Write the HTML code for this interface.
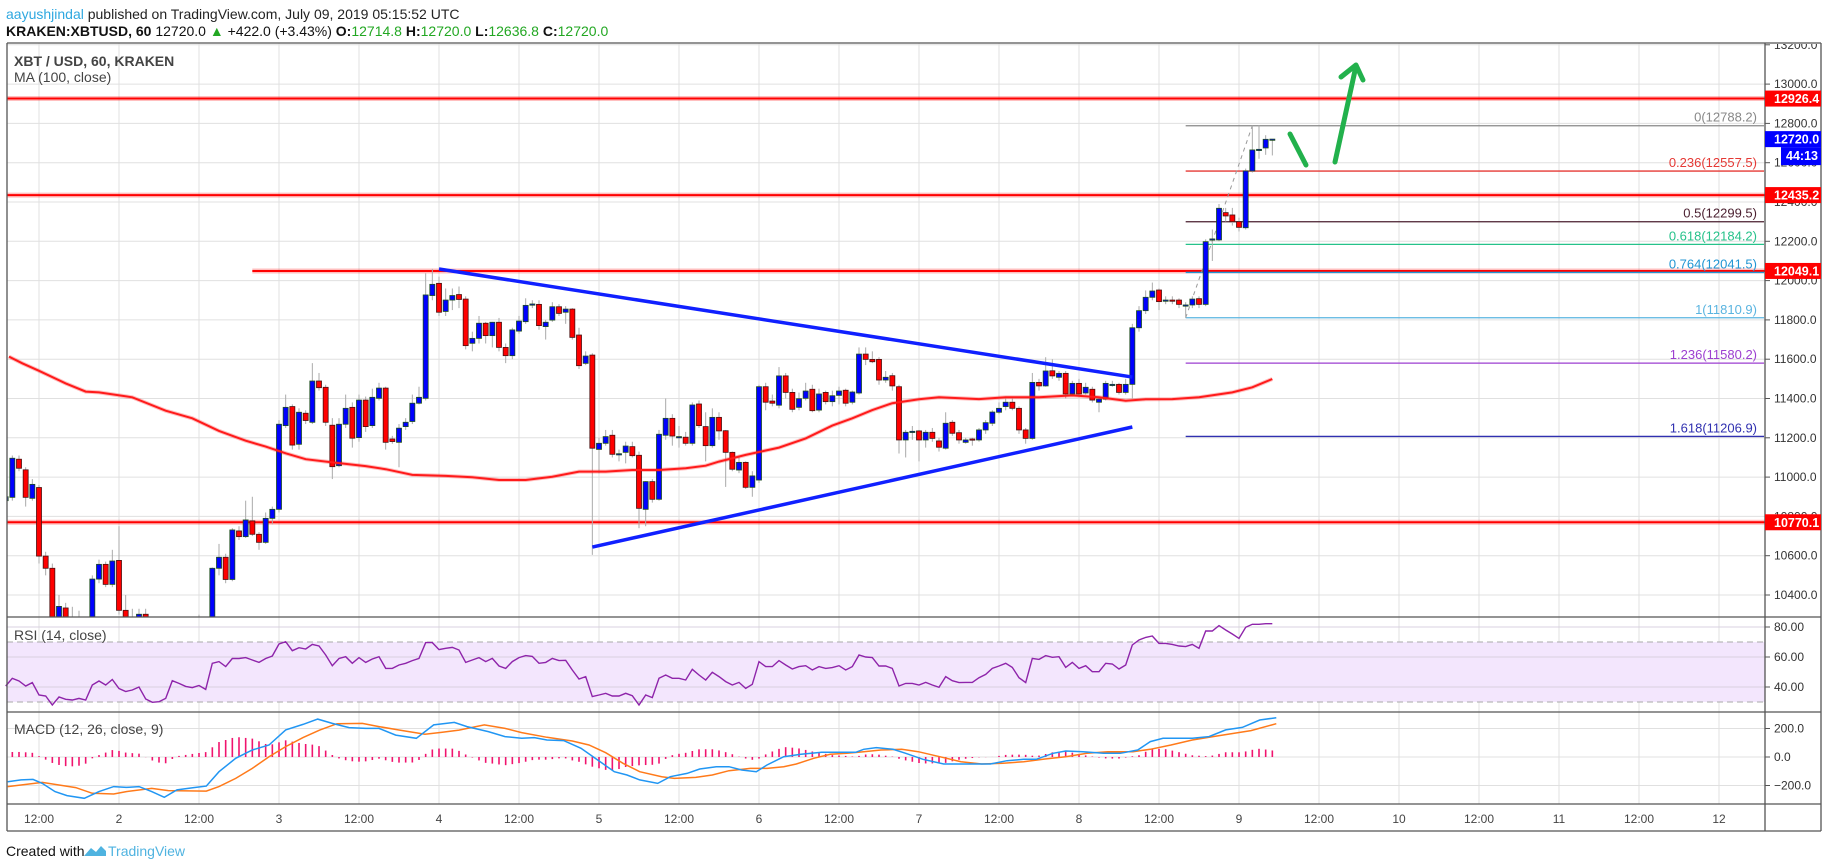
<!DOCTYPE html>
<html><head><meta charset="utf-8">
<style>
html,body{margin:0;padding:0;background:#fff;}
svg{display:block;font-family:"Liberation Sans",sans-serif;}
</style></head>
<body>
<svg id="chart" width="1828" height="868" viewBox="0 0 1828 868" xmlns="http://www.w3.org/2000/svg">
<rect x="0" y="0" width="1828" height="868" fill="#fff"/>
<text x="6" y="19" font-size="14" fill="#222"><tspan fill="#2fa8e0">aayushjindal</tspan> published on TradingView.com, July 09, 2019 05:15:52 UTC</text>
<text x="6" y="36" font-size="14" fill="#111"><tspan font-weight="bold">KRAKEN:XBTUSD, 60</tspan>  12720.0 <tspan fill="#22a722">▲</tspan> +422.0 (+3.43%) <tspan font-weight="bold">O:</tspan><tspan fill="#22a722">12714.8</tspan> <tspan font-weight="bold">H:</tspan><tspan fill="#22a722">12720.0</tspan> <tspan font-weight="bold">L:</tspan><tspan fill="#22a722">12636.8</tspan> <tspan font-weight="bold">C:</tspan><tspan fill="#22a722">12720.0</tspan></text>
<g id="grid"></g>
<g id="main"></g>
<g id="rsi"></g>
<g id="macd"></g>
<g id="axes"></g>
<text x="14" y="66" font-size="14" font-weight="bold" fill="#444">XBT / USD, 60, KRAKEN</text>
<text x="14" y="82" font-size="14" fill="#444">MA (100, close)</text>
<text x="14" y="640" font-size="14" fill="#444">RSI (14, close)</text>
<text x="14" y="734" font-size="14" fill="#444">MACD (12, 26, close, 9)</text>
<text x="6" y="856" font-size="14" fill="#111">Created with</text>
<path d="M84 856 L91 848 L96 852 L101 846 L106 851 L106 856 Z" fill="#4fb3e0"/>
<text x="108" y="856" font-size="14" fill="#4fb3e0">TradingView</text>
</svg>
<script>
// ---- data ----
const candles = [
[10880,10900,10910,10860],[10897,11096,11110,10880],[11091,11045,11110,11030],[11037,10897,11050,10850],[10892,10963,10990,10880],
[10947,10598,10960,10560],[10598,10536,10620,10500],[10536,10260,10560,10240],[10250,10342,10400,10230],[10334,10260,10360,10240],
[10260,10230,10340,10200],[10230,10250,10320,10210],[10250,10240,10270,10220],[10270,10481,10500,10260],[10481,10556,10580,10460],
[10556,10454,10570,10440],[10454,10573,10630,10440],[10576,10322,10750,10300],[10322,10270,10400,10250],[10270,10260,10330,10240],
[10270,10302,10330,10260],[10302,10270,10330,10250],[10270,10250,10290,10230],[10250,10240,10270,10220],[10240,10230,10260,10210],
[10230,10250,10280,10210],[10250,10240,10270,10220],[10240,10250,10270,10220],[10250,10240,10270,10220],[10240,10250,10300,10220],
[10250,10260,10280,10230],[10260,10536,10540,10240],[10536,10592,10660,10500],[10592,10479,10610,10460],[10479,10731,10740,10470],
[10726,10697,10750,10680],[10697,10782,10880,10690],[10777,10709,10900,10700],[10709,10668,10720,10630],[10668,10790,10820,10660],
[10790,10836,10850,10760],[10836,11269,11290,10820],[11262,11355,11420,11250],[11359,11163,11370,11140],[11167,11330,11350,11140],
[11325,11288,11340,11270],[11279,11489,11580,11270],[11489,11455,11530,11440],[11457,11279,11470,11260],[11264,11053,11300,10990],
[11058,11269,11300,11050],[11269,11350,11420,11250],[11355,11198,11380,11150],[11201,11392,11420,11180],[11392,11257,11410,11230],
[11262,11406,11450,11250],[11401,11453,11480,11390],[11453,11177,11460,11140],[11194,11181,11210,11170],[11177,11249,11270,11050],
[11257,11279,11300,11240],[11283,11376,11420,11270],[11376,11406,11460,11370],[11401,11927,12037,11390],[11924,11981,12060,11900],
[11986,11839,12020,11820],[11843,11901,11960,11820],[11901,11924,11960,11850],[11929,11904,11970,11860],[11906,11669,11920,11650],
[11681,11706,11740,11640],[11706,11783,11820,11680],[11783,11720,11790,11680],[11720,11788,11790,11660],[11788,11660,11810,11640],
[11660,11618,11680,11580],[11618,11749,11760,11600],[11743,11794,11820,11730],[11791,11874,11910,11780],[11877,11881,11900,11860],
[11879,11771,11900,11750],[11766,11788,11800,11700],[11799,11867,11890,11790],[11867,11833,11880,11820],[11839,11855,11870,11780],
[11855,11711,11860,11700],[11723,11567,11760,11550],[11579,11616,11640,11570],[11621,11147,11630,10604],[11141,11172,11200,11020],
[11172,11206,11240,11160],[11213,11116,11240,11100],[11119,11119,11140,11080],[11126,11158,11180,11070],[11155,11109,11180,11100],
[11111,10841,11130,10740],[10836,10977,10980,10750],[10977,10887,10990,10870],[10887,11218,11240,10880],[11213,11299,11400,11190],
[11299,11209,11320,11160],[11206,11206,11260,11150],[11203,11172,11230,11160],[11172,11367,11380,11160],[11372,11262,11390,11250],
[11257,11160,11330,11080],[11160,11304,11350,11150],[11304,11235,11330,11190],[11236,11126,11240,10950],[11126,11040,11130,11030],
[11036,11075,11110,11020],[11075,10948,11080,10940],[10948,11006,11030,10900],[10985,11460,11470,10970],[11460,11381,11480,11340],
[11387,11376,11420,11360],[11366,11515,11560,11350],[11515,11431,11530,11400],[11431,11345,11450,11330],[11355,11399,11430,11340],
[11401,11438,11480,11390],[11447,11338,11470,11330],[11341,11423,11450,11330],[11431,11384,11440,11370],[11384,11414,11440,11360],
[11416,11438,11460,11370],[11442,11376,11450,11360],[11381,11433,11440,11370],[11428,11626,11660,11420],[11626,11599,11660,11570],
[11599,11587,11640,11580],[11599,11494,11610,11470],[11494,11508,11540,11480],[11516,11464,11530,11440],[11460,11189,11470,11120],
[11189,11228,11240,11100],[11233,11233,11260,11190],[11235,11189,11240,11080],[11189,11228,11240,11150],[11228,11197,11250,11180],
[11184,11152,11200,11130],[11147,11274,11330,11140],[11279,11223,11290,11210],[11226,11189,11240,11170],[11177,11189,11200,11170],
[11194,11189,11200,11160],[11189,11240,11250,11180],[11240,11277,11290,11220],[11274,11331,11340,11260],[11330,11350,11380,11320],
[11359,11381,11400,11340],[11381,11350,11400,11340],[11350,11240,11360,11220],[11240,11197,11250,11170],[11197,11482,11530,11190],
[11482,11464,11500,11440],[11464,11540,11610,11460],[11541,11515,11600,11500],[11508,11528,11540,11490],[11528,11423,11540,11400],
[11423,11477,11490,11410],[11477,11423,11500,11410],[11428,11457,11480,11420],[11447,11392,11460,11380],[11381,11397,11410,11330],
[11397,11477,11490,11390],[11472,11472,11490,11460],[11472,11431,11480,11420],[11431,11472,11500,11420],[11472,11760,11780,11400],
[11760,11847,11870,11740],[11847,11915,11950,11830],[11915,11947,11990,11900],[11952,11893,11960,11850],[11901,11901,11920,11880],
[11901,11899,11920,11880],[11901,11879,11910,11860],[11876,11876,11890,11811],[11876,11906,11920,11860],[11908,11879,11920,11860],
[11879,12198,12210,11870],[12207,12212,12260,12100],[12207,12368,12390,12200],[12346,12329,12370,12300],[12334,12300,12370,12280],
[12300,12271,12320,12250],[12269,12558,12570,12260],[12558,12665,12788,12550],[12668,12668,12790,12620],[12675,12719,12740,12640],
[12719,12720,12720,12637]];
const firstHour = 7;
const maHours = [7.5,9.5,12,16,19,21,26,31,35,39,43,46,49,52,56,61,64,68,73,77,81,85,89,93,97,101,105,109,112,114,118,123,127,131,134,137,140,144,147,153,157,162,167,171,175,178,182,186,191,194,197];
const maValues = [11613,11579,11541,11477,11435,11431,11406,11338,11299,11235,11185,11155,11121,11091,11075,11056,11040,11011,11006,10999,10985,10985,11002,11028,11028,11036,11036,11045,11058,11079,11113,11150,11197,11262,11299,11341,11376,11396,11406,11397,11406,11406,11416,11406,11389,11396,11397,11406,11431,11457,11499];
const rsiValues = [40.7,45.8,44,40.7,42.9,34.7,34,28,33.3,31.8,31.3,32.4,31.3,41.3,44,41.3,45,39,37,38,40,32,29.8,30.2,32.4,44.2,42.4,40.4,39.6,41,38.4,55.8,56.9,53.6,59,59,59.6,58,56.4,59,60.7,68.7,70.2,64.2,66.2,65.3,68.4,67.3,61.3,54.2,59,60.2,55.8,59.6,56.4,58.7,60.2,52.4,52.4,54.7,55.8,57.6,59.1,69.6,69.6,64.9,65.8,66.4,64.7,56.4,58,59.6,56.9,59.1,54,52.4,56.9,59.6,60.9,60.4,55.8,56.4,59.1,57.6,57.8,51.3,45.3,46.9,33.6,34.7,35.8,34,34,35.8,34.2,28,34.7,32.9,45.8,48,45.8,45.8,44.7,51.8,48,44.7,49.8,46.9,43.6,41.3,43.1,39.1,41.8,56.9,53.6,53.6,57.6,54.7,52,53.6,54.2,51.3,53.6,52.4,52.9,54.2,51.3,53.6,61.3,60,59.6,54,54,52.4,40.7,42.4,42.4,41.3,43.1,41.3,39.8,46.9,44.2,42.9,43.1,43.1,46.2,48.4,52.4,54,55.8,53.1,46.2,42.9,59.1,58.4,60.9,59.8,60.2,53.1,56.4,52.4,54.2,50.2,50.2,55.8,55.3,52,54.7,68,71.3,73.1,74,69.1,69.1,68.4,67.3,66.9,68.4,65.8,77.3,77.3,80.9,78,75.3,72.4,79.8,81.8,81.8,82.2,82.2];
const macdHours = [7.3,9.3,11.1,12.5,14.4,16.2,18.8,21,23.2,25.1,27,28.9,30.8,32.7,35.2,37.1,39,41.5,44,46.5,49,51.6,53.8,56,58.5,61,63,65.5,68.6,71.2,74.3,76.2,79.4,81.9,84.4,86.3,88.2,90.7,93.3,95.8,98.3,100.2,102.1,104.8,106.7,109.2,111.1,113.6,115.5,117.4,119.6,121.2,123.7,126.3,129.4,134.5,135.7,137.6,140.1,142,144.6,147.7,150.9,154.7,157.2,159.7,161.6,164.1,166,168.6,171.7,174.2,176.8,178.7,180.6,185,187.5,190,192.5,195.1,197.6];
const macdValues = [-173,-161,-157,-185,-243,-271,-290,-243,-208,-213,-208,-243,-283,-231,-215,-204,-103,-9,49,84,190,229,266,236,206,201,201,154,131,225,243,213,178,143,131,136,119,115,61,-21,-103,-126,-161,-185,-138,-115,-84,-68,-68,-91,-103,-56,2,19,33,33,54,66,54,26,-16,-49,-49,-49,-26,-16,-16,26,42,37,26,26,49,108,131,131,143,190,208,260,276];
const signalHours = [7.3,12.5,17.5,20,23.2,25.1,28.9,31.4,37.1,39,41.5,44,46.5,49,51.6,54.1,56.7,60.5,63,66.1,69.9,72.5,75,78.8,81.9,84.4,88.2,92,94.5,97,99.6,102.1,105.4,107.3,110.5,113,115.5,118.7,121.2,123.7,125.6,128.2,130.7,133.2,135.7,138.3,141.4,143.9,147.1,150.3,153.4,156.6,159.7,162.9,166,169.2,172.3,176.1,178.7,181.8,185,188.1,191.3,193.8,197.6];
const signalValues = [-208,-178,-215,-255,-260,-243,-220,-236,-239,-208,-150,-80,2,73,136,189,234,236,213,189,159,173,189,225,201,171,138,112,84,30,-44,-103,-138,-150,-143,-126,-96,-80,-80,-68,-49,-9,19,26,37,49,54,37,2,-33,-49,-44,-33,-14,2,26,37,37,54,84,119,143,166,185,234];
const priceTicks = [10400,10600,10800,11000,11200,11400,11600,11800,12000,12200,12400,12600,12800,13000,13200];
const rsiTicks = [80,60,40];
const macdTicks = [200,0,-200];
const timeLabels = ["12:00","2","12:00","3","12:00","4","12:00","5","12:00","6","12:00","7","12:00","8","12:00","9","12:00","10","12:00","11","12:00","12"];
const hLevels = [12926.4,12435.2,10770.1];
const resistStartHour = 44;
const fibRatios = ["0","0.236","0.5","0.618","0.764","1","1.236","1.618"];
const fibPrices = [12788.2,12557.5,12299.5,12184.2,12041.5,11810.9,11580.2,11206.9];
const fibColors = ["#888","#e53935","#4a1f2f","#26c28a","#2196d3","#5ab4e0","#9c3fd0","#3030b0"];
const fibStartHour = 184;
const upperTrend = [[72,12059],[176,11509]];
const lowerTrend = [[95,10644],[176,11255]];
const lastPrice = 12720.0;

// ---- scales ----
const PL=7, PR=1765, MT=43, MB=617, RB=712, MDB=804, TB=831, OR=1821;
const X = t => 39 + (t-12)*6.6667;
const Y = p => 595 - (p-10400)*0.1965;
const RY = v => 642 + (70-v)*1.5;
const MY = v => 757 - v*0.1425;
const NS='http://www.w3.org/2000/svg';
function mk(tag, attrs, parent){const e=document.createElementNS(NS,tag);for(const k in attrs)e.setAttribute(k,attrs[k]);parent.appendChild(e);return e;}
const grid=document.getElementById('grid'), main=document.getElementById('main'), rsiG=document.getElementById('rsi'), macdG=document.getElementById('macd'), axes=document.getElementById('axes');
const defs=mk('defs',{},document.getElementById('chart'));
const cp=mk('clipPath',{id:'cm'},defs); mk('rect',{x:PL,y:MT,width:PR-PL,height:MB-MT},cp);
main.setAttribute('clip-path','url(#cm)');

timeLabels.forEach((lb,i)=>{
  const x=X(12+12*i);
  const l=mk('line',{x1:x,x2:x,y1:MT,y2:MDB,stroke:'#e0e0e0','stroke-width':1},grid);
  
  
  const t=mk('text',{x:x,y:823,'font-size':12,fill:'#444','text-anchor':'middle'},axes);
  t.textContent=lb;
  
  
});
priceTicks.forEach(p=>{
  const y=Y(p); if(y<MT) return;
  const l=mk('line',{x1:PL,x2:PR,y1:y,y2:y,stroke:'#e0e0e0','stroke-width':1},grid);
  
  
});
const band=mk('rect',{x:PL,y:RY(70),width:PR-PL,height:RY(30)-RY(70),fill:'#f3e6fd'},rsiG);


rsiTicks.forEach(v=>{const l=mk('line',{x1:PL,x2:PR,y1:RY(v),y2:RY(v),stroke:'#d8d0e0'},rsiG);
  
  });
[70,30].forEach(v=>{const l=mk('line',{x1:PL,x2:PR,y1:RY(v),y2:RY(v),stroke:'#aaa','stroke-dasharray':'6,4'},rsiG);
  
  });
macdTicks.forEach(v=>{const l=mk('line',{x1:PL,x2:PR,y1:MY(v),y2:MY(v),stroke:'#e0e0e0'},macdG);
  
  });

hLevels.forEach(p=>{
  const y=Y(p);
  mk('line',{x1:PL,x2:PR,y1:y,y2:y,stroke:'rgba(255,0,0,0.25)','stroke-width':5},main);
  const l=mk('line',{x1:PL,x2:PR,y1:y,y2:y,stroke:'#ff0000','stroke-width':2},main);
  
  
});
{ const y=Y(12049.1);
  mk('line',{x1:X(resistStartHour),x2:PR,y1:y,y2:y,stroke:'rgba(255,0,0,0.25)','stroke-width':5},main);
  const l=mk('line',{x1:X(resistStartHour),x2:PR,y1:y,y2:y,stroke:'#ff0000','stroke-width':2},main);
  
  
}
fibPrices.forEach((p,i)=>{
  const y=Y(p);
  const l=mk('line',{x1:X(fibStartHour),x2:PR-1,y1:y,y2:y,stroke:fibColors[i],'stroke-width':1.3},main);
  
  
  const t=mk('text',{x:1757,y:y-4,'font-size':13,fill:fibColors[i],'text-anchor':'end'},main);
  t.textContent=fibRatios[i]+'('+p.toFixed(1)+')';
  
  
});
{ const d=mk('line',{x1:X(fibStartHour),y1:Y(fibPrices[5]),x2:X(194),y2:Y(fibPrices[0]),stroke:'#999','stroke-width':1,'stroke-dasharray':'4,4'},main);
  
   }

candles.forEach((c,i)=>{
  const t=firstHour+i, x=X(t);
  const [o,cl,h,l]=c;
  const up=cl>=o;
  const w=mk('line',{x1:x,x2:x,y1:Y(h),y2:Y(l),stroke:'#aaa','stroke-width':1},main);
  
  
  const top=Y(Math.max(o,cl)), bot=Y(Math.min(o,cl));
  const b=mk('rect',{x:x-2.5,y:top,width:5,height:Math.max(1.2,bot-top),fill:up?'#0000ff':'#ff0000',stroke:up?'#1d4d1d':'#4a1010','stroke-width':0.8},main);
  
  
});
{ const d=maHours.map((t,i)=>(i?'L':'M')+X(t).toFixed(1)+' '+Y(maValues[i]).toFixed(1)).join(' ');
  mk('path',{d:d,fill:'none',stroke:'rgba(255,0,0,0.25)','stroke-width':4},main);
  const p=mk('path',{d:d,fill:'none',stroke:'#ff1a1a','stroke-width':2},main);
  
   }
[upperTrend,lowerTrend].forEach(tl=>{
  const l=mk('line',{x1:X(tl[0][0]),y1:Y(tl[0][1]),x2:X(tl[1][0]),y2:Y(tl[1][1]),stroke:'#1020ff','stroke-width':3.5},main);
  
  
});
{ const g=mk('g',{stroke:'#22b14c','stroke-width':5,'stroke-linecap':'round','stroke-linejoin':'round',fill:'none'},main);
  
  
  mk('line',{x1:1290,y1:134,x2:1306,y2:165},g);
  mk('line',{x1:1335,y1:162,x2:1356,y2:66},g);
  mk('polyline',{points:'1341,77 1356,65 1363,80'},g); }

{ const d=rsiValues.map((v,i)=>(i?'L':'M')+X(firstHour+i).toFixed(1)+' '+RY(v).toFixed(1)).join(' ');
  const p=mk('path',{d:d,fill:'none',stroke:'#8e24aa','stroke-width':1.4},rsiG);
  
   }
function interp(hs,vs,t){ if(t<=hs[0])return vs[0]; for(let i=1;i<hs.length;i++){ if(t<=hs[i]){const f=(t-hs[i-1])/(hs[i]-hs[i-1]);return vs[i-1]+f*(vs[i]-vs[i-1]);} } return vs[vs.length-1]; }
for(let t=firstHour+1;t<firstHour+candles.length;t++){
  const h=interp(macdHours,macdValues,t)-interp(signalHours,signalValues,t);
  const b=mk('line',{x1:X(t),x2:X(t),y1:MY(0),y2:MY(h),stroke:'#f0146e','stroke-width':1.6},macdG);
  
  
}
{ const d=signalHours.map((t,i)=>(i?'L':'M')+X(t).toFixed(1)+' '+MY(signalValues[i]).toFixed(1)).join(' ');
  const p=mk('path',{d:d,fill:'none',stroke:'#ff7a1a','stroke-width':1.5},macdG);
  
   }
{ const d=macdHours.map((t,i)=>(i?'L':'M')+X(t).toFixed(1)+' '+MY(macdValues[i]).toFixed(1)).join(' ');
  const p=mk('path',{d:d,fill:'none',stroke:'#2196f3','stroke-width':1.5},macdG);
  
   }

[[PL,MT,OR,MT],[PL,MB,OR,MB],[PL,RB,OR,RB],[PL,MDB,OR,MDB],[PL,TB,OR,TB],[PL,MT,PL,TB],[PR,MT,PR,TB],[OR,MT,OR,TB]].forEach(a=>{
  const l=mk('line',{x1:a[0],y1:a[1],x2:a[2],y2:a[3],stroke:'#555','stroke-width':1.3},axes);
  
  
});
const axClip=mk('clipPath',{id:'ca'},defs); mk('rect',{x:PR,y:MT+1,width:OR-PR,height:MB-MT-1},axClip);
const pax=mk('g',{'clip-path':'url(#ca)'},axes);


priceTicks.forEach(p=>{
  const y=Y(p);
  mk('line',{x1:PR,x2:PR+5,y1:y,y2:y,stroke:'#555'},pax);
  const t=mk('text',{x:1774,y:y+4,'font-size':12,fill:'#333'},pax);
  t.textContent=p.toFixed(1);
  
  
});
rsiTicks.forEach(v=>{
  mk('line',{x1:PR,x2:PR+5,y1:RY(v),y2:RY(v),stroke:'#555'},axes);
  const t=mk('text',{x:1774,y:RY(v)+4,'font-size':12,fill:'#333'},axes);
  t.textContent=v.toFixed(2);
  
  
});
macdTicks.forEach(v=>{
  mk('line',{x1:PR,x2:PR+5,y1:MY(v),y2:MY(v),stroke:'#555'},axes);
  const t=mk('text',{x:1774,y:MY(v)+4,'font-size':12,fill:'#333'},axes);
  t.textContent=(v<0?'\u2212'+(-v).toFixed(1):v.toFixed(1));
  
  
});
function tag(p,bg,txt,x0){
  const y=Y(p);
  const r=mk('rect',{x:x0,y:y-8,width:OR-x0,height:16,fill:bg},axes);
  
  
  const t=mk('text',{x:1774,y:y+4.5,'font-size':12.5,'font-weight':'bold',fill:'#fff'},axes);
  t.textContent=txt;
  
  
}
hLevels.forEach(p=>tag(p,'#ff0000',p.toFixed(1),PR));
tag(12049.1,'#ff0000','12049.1',PR);
tag(lastPrice,'#0000ff',lastPrice.toFixed(1),PR);
{ const y=Y(lastPrice)+16;
  const r=mk('rect',{x:1781,y:y-8,width:OR-1781,height:18,fill:'#0000ff'},axes);
  
  
  const t=mk('text',{x:1786,y:y+5,'font-size':12.5,'font-weight':'bold',fill:'#fff'},axes);
  t.textContent='44:13';
  
   }
</script>
</body></html>
